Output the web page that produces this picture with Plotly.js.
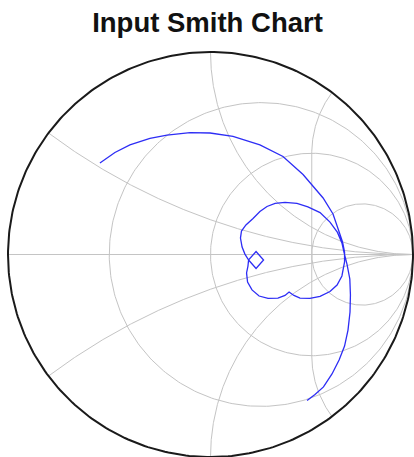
<!DOCTYPE html>
<html><head><meta charset="utf-8">
<script src="https://cdn.plot.ly/plotly-3.0.1.min.js"></script>
<style>html,body{margin:0;padding:0;background:#fff}#chart{width:414px;height:457px}</style>
</head><body><div id="chart"></div>
<script>
const gammaRe = [-0.546,-0.472,-0.398,-0.299,-0.215,-0.101,-0.002,0.111,0.244,0.358,0.457,0.556,0.605,0.632,0.652,0.662,
  0.662,0.649,0.625,0.590,0.541,0.491,0.442,0.412,0.388,0.368,0.333,0.284,0.240,0.205,0.183,0.178,0.185,
  0.188,0.225,0.262,0.225,0.188,0.170,0.156,0.148,0.153,0.175,0.210,0.244,0.279,0.319,0.368,0.427,0.481,0.541,0.590,0.627,0.649,0.659,
  0.674,0.688,0.691,0.689,0.679,0.662,0.635,0.600,0.558,0.516,0.477];
const gammaIm = [0.452,0.504,0.541,0.573,0.590,0.602,0.600,0.583,0.541,0.484,0.395,0.279,0.200,0.121,0.062,0.012,
  -0.037,-0.106,-0.151,-0.183,-0.207,-0.217,-0.215,-0.202,-0.185,-0.202,-0.215,-0.217,-0.205,-0.175,-0.136,-0.091,-0.057,
  -0.027,-0.069,-0.027,0.015,-0.027,0.002,0.037,0.081,0.116,0.146,0.178,0.212,0.237,0.252,0.257,0.252,0.235,0.207,0.160,0.109,0.057,0.012,
  -0.047,-0.121,-0.200,-0.284,-0.373,-0.452,-0.521,-0.590,-0.654,-0.691,-0.721];

// Smith chart grid values (normalised impedance)
const boundaryResistance = [0];
const resistanceCircles = [1/3, 1, 3];
const reactanceArcs = [1/3, 1, -1/3, -1];
const partialReactance = [2, -2];   // drawn from r = 0 up to r = partialEnd
const partialEnd = 1;
const chartTitle = 'Input Smith Chart';

function gam(r, x) { const d = (r + 1) * (r + 1) + x * x; return [(r * r - 1 + x * x) / d, 2 * x / d]; }

function resistancePath(r, xs, ys) {
  const c = r / (1 + r), rho = 1 / (1 + r), n = 360;
  for (let k = 0; k <= n; k++) { const t = 2 * Math.PI * k / n; xs.push(c + rho * Math.cos(t)); ys.push(rho * Math.sin(t)); }
  xs.push(null); ys.push(null);
}
function reactancePath(x, rEnd, xs, ys, reverse) {
  const n = 400, pts = [];
  for (let k = 0; k < n; k++) {
    const r = isFinite(rEnd) ? rEnd * k / (n - 1) : Math.tan(Math.PI / 2 * k / n);
    pts.push(gam(r, x));
  }
  if (!isFinite(rEnd)) pts.push([1, 0]);
  if (reverse) pts.reverse();
  pts.forEach(p => { xs.push(p[0]); ys.push(p[1]); });
}

const gx = [], gy = [];
gx.push(-1, 1, null); gy.push(0, 0, null);
resistanceCircles.forEach(r => resistancePath(r, gx, gy));
reactanceArcs.forEach(x => { reactancePath(x, Infinity, gx, gy, false); gx.push(null); gy.push(null); });
reactancePath(partialReactance[0], partialEnd, gx, gy, false);
reactancePath(partialReactance[1], partialEnd, gx, gy, true);
gx.push(null); gy.push(null);

const bx = [], by = [];
boundaryResistance.forEach(r => resistancePath(r, bx, by));

const traces = [
  {x: gx, y: gy, type: 'scatter', mode: 'lines', line: {color: '#c4c4c4', width: 1}, hoverinfo: 'skip', connectgaps: false},
  {x: bx, y: by, type: 'scatter', mode: 'lines', line: {color: '#1a1a1a', width: 2}, hoverinfo: 'skip'},
  {x: gammaRe, y: gammaIm, type: 'scatter', mode: 'lines', line: {color: 'rgb(45,45,245)', width: 1.3, simplify: false}}
];

const W = 414, H = 457, cx = 210.5, cy = 254.5, R = 202.5;
const layout = {
  width: W, height: H,
  margin: {l: 0, r: 0, t: 0, b: 0},
  paper_bgcolor: '#ffffff', plot_bgcolor: '#ffffff',
  showlegend: false, hovermode: false,
  title: {text: chartTitle, font: {family: 'Liberation Sans, Arial, sans-serif', size: 27.5, weight: 'bold', color: '#111'},
          xref: 'container', yref: 'container', x: 207.5 / W, y: 1 - 31.7 / H, xanchor: 'center', yanchor: 'bottom'},
  xaxis: {range: [-cx / R, (W - cx) / R], visible: false, fixedrange: true},
  yaxis: {range: [(cy - H) / R, cy / R], visible: false, fixedrange: true}
};
Plotly.newPlot('chart', traces, layout, {staticPlot: true, displayModeBar: false});
</script></body></html>
